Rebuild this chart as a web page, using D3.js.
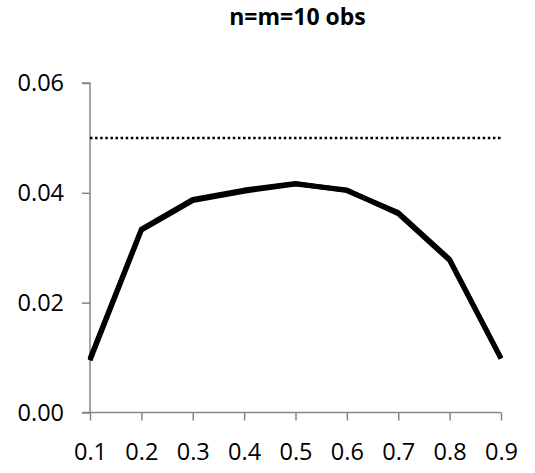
<!DOCTYPE html>
<html lang="en">
<head>
    <meta charset="UTF-8">
    <title>n=m=10 obs</title>
    <script src="https://cdn.jsdelivr.net/npm/d3@7"></script>
    <style>
        body {
            margin: 0;
            background: #fff;
            font-family: 'Open Sans', 'Liberation Sans', sans-serif;
        }
        .axis path, .axis line {
            stroke: #868686;
            stroke-width: 1.5px;
        }
        .axis text {
            font-family: 'Open Sans', 'Liberation Sans', sans-serif;
            font-size: 23.5px;
            fill: #000;
        }
    </style>
</head>
<body>
    <svg width="535" height="473"></svg>

    <script>
        // data
        const categories = ["0.1", "0.2", "0.3", "0.4", "0.5", "0.6", "0.7", "0.8", "0.9"];
        const seriesA = [0.0095, 0.0332, 0.0386, 0.0403, 0.0416, 0.0405, 0.0362, 0.0277, 0.0098];
        const seriesB = [0.0098, 0.0334, 0.0388, 0.0405, 0.0417, 0.0404, 0.0364, 0.0279, 0.0099];
        const refLevel = 0.05;
        const yTicks = [0, 0.02, 0.04, 0.06];

        const svg = d3.select("svg");
        const plotLeft = 90, plotRight = 501, plotTop = 83, plotBottom = 412.5;

        const x = d3.scalePoint()
            .domain(categories)
            .range([plotLeft, plotRight]);

        const y = d3.scaleLinear()
            .domain([0, 0.06])
            .range([plotBottom, plotTop]);

        // title
        svg.append("text")
            .attr("x", (plotLeft + plotRight) / 2 + 2)
            .attr("y", 25)
            .attr("text-anchor", "middle")
            .attr("font-size", "23px")
            .attr("font-weight", "bold")
            .text("n=m=10 obs");

        // y axis
        svg.append("g")
            .attr("class", "axis")
            .attr("transform", `translate(${plotLeft},0)`)
            .call(d3.axisLeft(y).tickValues(yTicks).tickFormat(d3.format(".2f")).tickSize(8).tickPadding(18))
            .call(g => g.select(".domain").attr("d", `M-8,${plotBottom}H0V${plotTop}H-8`));

        // x axis
        svg.append("g")
            .attr("class", "axis")
            .attr("transform", `translate(0,${plotBottom})`)
            .call(d3.axisBottom(x).tickSize(8).tickPadding(23))
            .call(g => g.select(".domain").attr("d", `M${plotLeft},0H${plotRight}`));

        // dotted reference line
        svg.append("line")
            .attr("x1", plotLeft)
            .attr("x2", plotRight)
            .attr("y1", y(refLevel))
            .attr("y2", y(refLevel))
            .attr("stroke", "#000")
            .attr("stroke-width", 2.5)
            .attr("stroke-dasharray", "2.5 2.6");

        const line = d3.line()
            .x((d, i) => x(categories[i]))
            .y(d => y(d));

        [seriesA, seriesB].forEach(s => {
            svg.append("path")
                .datum(s)
                .attr("fill", "none")
                .attr("stroke", "#000")
                .attr("stroke-width", 5)
                .attr("stroke-linejoin", "round")
                .attr("d", line);
        });
    </script>
</body>
</html>
